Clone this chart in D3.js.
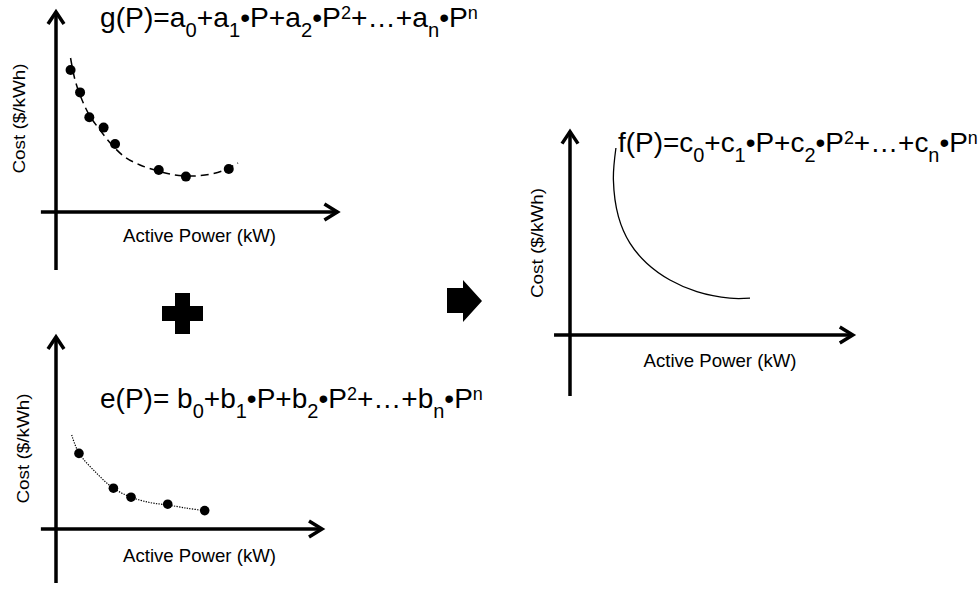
<!DOCTYPE html>
<html>
<head>
<meta charset="utf-8">
<script src="https://cdn.jsdelivr.net/npm/d3@7"></script>
<style>
  body { margin: 0; background: #fff; }
  svg { display: block; font-family: "Liberation Sans", Arial, sans-serif; }
</style>
</head>
<body>
<div id="viz"></div>
<script>
var width = 979;
var height = 589;

// top-left panel: sampled cost points and the dashed fit g(P)
var topPower = [0.52, 0.86, 1.19, 1.70, 2.11, 3.67, 4.64, 6.17];
var topCost  = [7.10, 5.98, 4.74, 4.22, 3.40, 2.10, 1.77, 2.15];
var topFitPower = [0.52, 0.68, 0.93, 1.21, 1.57, 2.00, 2.46, 3.00, 3.64, 4.25, 4.79, 5.32, 5.93, 6.50];
var topFitCost  = [7.70, 6.60, 5.60, 4.80, 4.10, 3.35, 2.75, 2.35, 2.05, 1.85, 1.80, 1.85, 2.05, 2.45];

// bottom-left panel: points and dotted fit e(P)
var botPower = [0.82, 2.05, 2.68, 3.99, 5.31];
var botCost  = [3.78, 2.04, 1.59, 1.24, 0.92];
var botFitPower = [0.56, 0.82, 1.45, 2.05, 2.68, 3.36, 3.99, 4.67, 5.14];
var botFitCost  = [4.70, 3.80, 2.79, 2.04, 1.59, 1.32, 1.20, 1.04, 0.95];

// right panel: combined curve f(P)
var fitPower = [1.64, 1.55, 1.73, 2.14, 2.74, 3.57, 4.53, 5.71, 6.43];
var fitCost  = [9.35, 7.75, 5.92, 4.59, 3.59, 2.75, 2.17, 1.84, 1.84];

var xLabel = "Active Power (kW)";
var yLabel = "Cost ($/kWh)";
var formulaG = "g(P)=a_0+a_1•P+a_2•P^2+…+a_n•P^n";
var formulaE = "e(P)= b_0+b_1•P+b_2•P^2+…+b_n•P^n";
var formulaF = "f(P)=c_0+c_1•P+c_2•P^2+…+c_n•P^n";

var svg = d3.select("#viz")
    .append("svg")
    .attr("width", width)
    .attr("height", height);

// one panel = origin + axis extents (data units)
function makePanel(ox, oy, ext) {
  var x = d3.scaleLinear().domain([0, 10]).range([ox, ox + 280]);
  var y = d3.scaleLinear().domain([0, 10]).range([oy, oy - 200]);
  var g = svg.append("g");

  // axes
  g.append("line")
    .attr("x1", x(ext.x0)).attr("x2", x(ext.x1))
    .attr("y1", y(0)).attr("y2", y(0))
    .attr("stroke", "#000").attr("stroke-width", 3.5);
  g.append("line")
    .attr("x1", x(0)).attr("x2", x(0))
    .attr("y1", y(ext.y0)).attr("y2", y(ext.y1))
    .attr("stroke", "#000").attr("stroke-width", 3.5);

  // open arrow heads
  var tx = x(ext.x1), ty = y(0);
  g.append("path")
    .attr("d", "M" + (tx - 13) + "," + (ty - 8) + "L" + tx + "," + ty + "L" + (tx - 13) + "," + (ty + 8))
    .attr("fill", "none").attr("stroke", "#000").attr("stroke-width", 3.5);
  var ux = x(0), uy = y(ext.y1);
  g.append("path")
    .attr("d", "M" + (ux - 8) + "," + (uy + 12) + "L" + ux + "," + uy + "L" + (ux + 8) + "," + (uy + 12))
    .attr("fill", "none").attr("stroke", "#000").attr("stroke-width", 3.5);

  // labels
  g.append("text")
    .attr("x", x(0) + ext.lx)
    .attr("y", y(0) + ext.ly)
    .attr("text-anchor", "middle")
    .attr("textLength", 153)
    .attr("lengthAdjust", "spacingAndGlyphs")
    .style("font-size", "18.5px")
    .text(xLabel);

  g.append("text")
    .attr("transform", "translate(" + ext.cx + "," + ext.cy + ") rotate(-90)")
    .attr("text-anchor", "middle")
    .attr("textLength", 110)
    .attr("lengthAdjust", "spacingAndGlyphs")
    .style("font-size", "17px")
    .text(yLabel);

  return {x: x, y: y, g: g};
}

function drawCurve(p, xs, ys, curve, dash, sw) {
  var line = d3.line()
    .x(function(d) { return p.x(d[0]); })
    .y(function(d) { return p.y(d[1]); })
    .curve(curve);
  p.g.append("path")
    .datum(d3.zip(xs, ys))
    .attr("d", line)
    .attr("fill", "none")
    .attr("stroke", "#000")
    .attr("stroke-width", sw)
    .attr("stroke-dasharray", dash);
}

function drawDots(p, xs, ys, r) {
  p.g.selectAll(".dot")
    .data(d3.zip(xs, ys))
    .enter()
    .append("circle")
    .attr("class", "dot")
    .attr("cx", function(d) { return p.x(d[0]); })
    .attr("cy", function(d) { return p.y(d[1]); })
    .attr("r", r)
    .attr("fill", "#000");
}

// formula with _sub and ^sup, stretched to a target width
function drawFormula(str, x0, y0, targetW) {
  var parts = [];
  var re = /([_^])(\w)/g, last = 0, m;
  while ((m = re.exec(str)) !== null) {
    if (m.index > last) parts.push({t: str.slice(last, m.index), k: "n"});
    parts.push({t: m[2], k: m[1] == "_" ? "sub" : "sup"});
    last = re.lastIndex;
  }
  if (last < str.length) parts.push({t: str.slice(last), k: "n"});

  var g = svg.append("g").attr("transform", "translate(" + x0 + "," + y0 + ")");
  var t = g.append("text").attr("x", 0).attr("y", 0);
  var cur = 0;
  parts.forEach(function(p) {
    var off = p.k == "sub" ? 10 : (p.k == "sup" ? -8 : 0);
    var fs = p.k == "sub" ? 20 : (p.k == "sup" ? 18 : 28);
    t.append("tspan")
      .attr("dy", off - cur)
      .style("font-size", fs + "px")
      .text(p.t);
    cur = off;
  });
  var w = t.node().getBBox().width;
  t.attr("transform", "scale(" + (targetW / w) + ",1)");
}

var pTop = makePanel(56, 212, {x0: -0.54, x1: 10.05, y0: -2.9, y1: 10.0, lx: 143.5, ly: 30, cx: 25, cy: 118.5});
drawCurve(pTop, topFitPower, topFitCost, d3.curveCatmullRom, "8,5", 1.5);
drawDots(pTop, topPower, topCost, 5);

var pBot = makePanel(56, 529, {x0: -0.54, x1: 9.5, y0: -2.7, y1: 9.6, lx: 143.5, ly: 32.7, cx: 29, cy: 448.5});
drawCurve(pBot, botFitPower, botFitCost, d3.curveCatmullRom, "1.3,1.3", 1.2);
drawDots(pBot, botPower, botCost, 4.8);

var pRight = makePanel(570, 335, {x0: -0.57, x1: 10.1, y0: -3.05, y1: 10.17, lx: 150, ly: 31.7, cx: 543, cy: 243});
drawCurve(pRight, fitPower, fitCost, d3.curveCatmullRom, null, 1.3);

drawFormula(formulaG, 100, 27, 378);
drawFormula(formulaE, 100, 408, 383);
drawFormula(formulaF, 618, 152, 360);

// plus sign and block arrow between the panels
var plus = d3.path();
var px = 182.5, py = 313.5, pa = 20.5, pb = 7.5;
plus.moveTo(px - pb, py - pa); plus.lineTo(px + pb, py - pa); plus.lineTo(px + pb, py - pb);
plus.lineTo(px + pa, py - pb); plus.lineTo(px + pa, py + pb); plus.lineTo(px + pb, py + pb);
plus.lineTo(px + pb, py + pa); plus.lineTo(px - pb, py + pa); plus.lineTo(px - pb, py + pb);
plus.lineTo(px - pa, py + pb); plus.lineTo(px - pa, py - pb); plus.lineTo(px - pb, py - pb);
plus.closePath();
svg.append("path").attr("d", plus.toString()).attr("fill", "#000");

var arrow = d3.path();
arrow.moveTo(447, 288); arrow.lineTo(463, 288); arrow.lineTo(463, 280);
arrow.lineTo(482, 301); arrow.lineTo(463, 322); arrow.lineTo(463, 313);
arrow.lineTo(447, 313); arrow.closePath();
svg.append("path").attr("d", arrow.toString()).attr("fill", "#000");
</script>
</body>
</html>
